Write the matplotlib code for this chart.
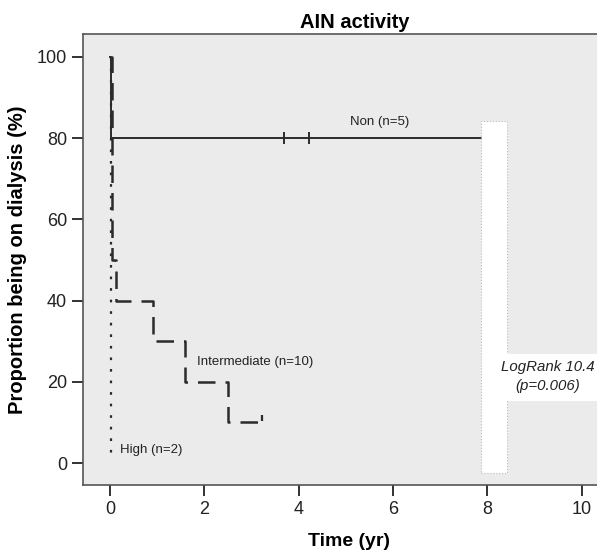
import matplotlib.pyplot as plt
from matplotlib.patches import Rectangle

plt.rcParams['font.family'] = ['Liberation Sans', 'DejaVu Sans']

# Kaplan-Meier step data (time in years, proportion in %)
non_t = [0.0, 0.03, 7.94]
non_s = [100, 80, 80]
non_cens_t = [3.69, 4.22]
non_cens_s = [80, 80]

inter_t = [0.0, 0.05, 0.12, 0.91, 1.59, 2.5, 3.22]
inter_s = [100, 50, 40, 30, 20, 10, 10]

high_t = [0.02, 0.02]
high_s = [100, 2]

xticks = [0, 2, 4, 6, 8, 10]
yticks = [0, 20, 40, 60, 80, 100]

fig = plt.figure(figsize=(5.97, 5.52), dpi=100)
ax = fig.add_axes([0.139, 1 - 485 / 552, 0.861, 451 / 552])
ax.set_facecolor('#ebebeb')
ax.set_xlim(-0.57, 10.32)
ax.set_ylim(-5.4, 105.6)

col = '#2b2b2b'
ax.step(non_t, non_s, where='post', color=col, lw=1.4)
ax.plot(non_cens_t, non_cens_s, ls='none', marker='|', ms=8, mew=1.4, color=col)
ax.step(inter_t, inter_s, where='post', color=col, lw=1.8, dashes=(7, 4))
ax.plot([inter_t[-1]], [inter_s[-1] + 1], marker='|', ms=4, mew=1.6, color=col)
ax.plot(high_t, high_s, color=col, lw=1.6, dashes=(1.2, 4))

ax.text(5.72, 84, 'Non (n=5)', fontsize=9.5, ha='center', va='center', color='#222')
ax.text(1.84, 24.8, 'Intermediate (n=10)', fontsize=9.5, ha='left', va='center', color='#222')
ax.text(0.21, 3.2, 'High (n=2)', fontsize=9.5, ha='left', va='center', color='#222')

# leftover legend box (white) with log-rank result
ax.add_patch(Rectangle((7.86, -2.5), 0.55, 86.8, facecolor='white',
                       edgecolor='#bbbbbb', lw=0.8, ls=':', zorder=3))
ax.add_patch(Rectangle((8.3, 15.3), 2.5, 11.5, facecolor='white',
                       edgecolor='none', zorder=3))
ax.text(9.28, 23.6, 'LogRank 10.4', fontsize=10.8, style='italic', ha='center',
        va='center', zorder=4, color='#222')
ax.text(9.28, 18.9, '(p=0.006)', fontsize=10.8, style='italic', ha='center',
        va='center', zorder=4, color='#222')

ax.set_xticks(xticks)
ax.set_yticks(yticks)
ax.tick_params(direction='out', length=8, width=1.3, labelsize=13, colors='#222')
for s in ['left', 'bottom', 'top']:
    ax.spines[s].set_color('#555')
    ax.spines[s].set_linewidth(1.2)
ax.spines['right'].set_visible(False)

ax.set_xlabel('Time (yr)', fontsize=14, fontweight='bold', va='center')
ax.xaxis.set_label_coords((349 - 83) / 514, (485 - 541) / 451)
ax.set_ylabel('Proportion being on dialysis (%)', fontsize=14.5, fontweight='bold',
              va='center')
ax.yaxis.set_label_coords((18 - 83) / 514, 0.5)
fig.text(355 / 597, 1 - 22 / 552, 'AIN activity', fontsize=14.5, fontweight='bold',
         ha='center', va='center')

fig.savefig('out.png', dpi=100)
